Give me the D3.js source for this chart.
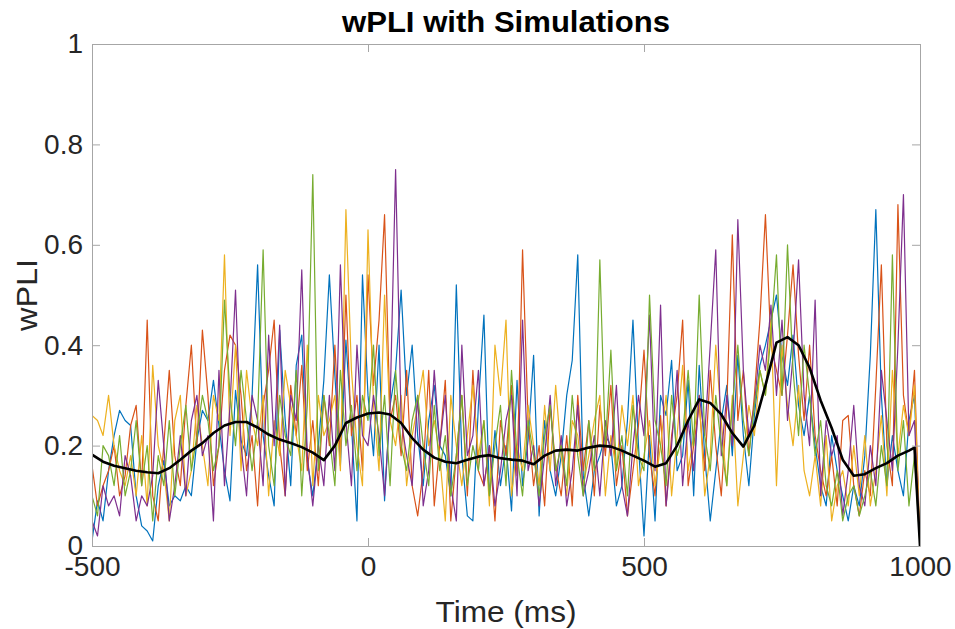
<!DOCTYPE html>
<html lang="en">
<head>
<meta charset="utf-8">
<title>wPLI with Simulations</title>
<script src="https://cdn.jsdelivr.net/npm/d3@7/dist/d3.min.js"></script>
<style type="text/css">
  body { margin: 0; background: #fff; }
  svg text { font-family: "Liberation Sans", Arial, Helvetica, sans-serif; fill: #262626; }
</style>
</head>
<body>
<div id="chart"></div>
<script type="text/javascript">
  // time axis: one sample every 10 ms from -500 to 1000
  const tStart = -500, tStep = 10;

  // five simulations in rows of 100 ms
  const simBlue = [
    .01,.09,.05,.15,.22,.27,.25,.24,.10,.04,
    .03,.01,.12,.17,.08,.10,.09,.12,.10,.21,
    .27,.25,.33,.24,.15,.09,.31,.21,.18,.30,
    .56,.22,.14,.08,.43,.25,.12,.36,.42,.17,
    .10,.20,.33,.54,.34,.16,.41,.24,.05,.54,
    .30,.18,.40,.09,.28,.35,.51,.30,.40,.22,
    .12,.25,.32,.20,.18,.10,.52,.18,.06,.05,
    .28,.46,.10,.23,.12,.20,.07,.33,.12,.21,
    .38,.06,.25,.15,.10,.18,.30,.37,.58,.14,
    .06,.15,.18,.22,.20,.08,.12,.25,.45,.20,
    .02,.22,.05,.30,.26,.37,.15,.18,.33,.10,
    .36,.18,.05,.15,.25,.32,.18,.38,.22,.12,
    .26,.36,.40,.45,.50,.38,.32,.42,.28,.22,
    .30,.20,.12,.08,.22,.15,.10,.05,.12,.08,
    .18,.38,.67,.30,.12,.22,.15,.10,.25,.30,
    0
  ];
  const simOrange = [
    .16,.08,.12,.15,.20,.10,.14,.24,.28,.12,
    .45,.10,.05,.20,.35,.18,.12,.28,.40,.20,
    .43,.30,.12,.20,.35,.42,.40,.30,.15,.22,
    .08,.28,.35,.45,.20,.10,.32,.22,.36,.15,
    .25,.12,.30,.20,.40,.18,.50,.22,.30,.15,
    .54,.32,.45,.66,.25,.30,.18,.35,.12,.06,
    .15,.35,.08,.20,.33,.05,.18,.30,.10,.35,
    .15,.12,.20,.05,.25,.18,.32,.14,.59,.25,
    .12,.20,.08,.28,.16,.10,.22,.08,.30,.15,
    .25,.10,.28,.18,.32,.12,.20,.06,.15,.24,
    .39,.18,.10,.26,.08,.22,.30,.45,.12,.20,
    .28,.15,.35,.20,.10,.28,.62,.25,.35,.18,
    .30,.45,.66,.40,.35,.30,.42,.56,.38,.25,
    .40,.22,.15,.10,.18,.08,.25,.26,.12,.06,
    .15,.10,.32,.56,.20,.12,.68,.30,.22,.35,
    0
  ];
  const simYellow = [
    .26,.25,.22,.30,.20,.15,.12,.18,.10,.22,
    .08,.36,.20,.15,.05,.25,.30,.10,.15,.28,
    .20,.12,.30,.25,.58,.22,.40,.15,.35,.25,
    .20,.30,.10,.25,.18,.35,.28,.22,.15,.40,
    .12,.30,.22,.25,.30,.15,.67,.35,.20,.12,
    .63,.28,.15,.50,.25,.20,.30,.12,.22,.28,
    .35,.20,.25,.18,.05,.30,.20,.12,.22,.32,
    .18,.25,.08,.40,.30,.45,.10,.20,.15,.28,
    .20,.12,.28,.15,.32,.18,.10,.25,.22,.12,
    .18,.25,.30,.10,.22,.15,.28,.20,.30,.12,
    .18,.25,.12,.20,.30,.10,.22,.36,.15,.22,
    .30,.10,.18,.40,.25,.12,.30,.08,.18,.28,
    .22,.35,.30,.45,.12,.40,.28,.20,.32,.15,
    .10,.18,.08,.22,.05,.12,.15,.08,.20,.10,
    .22,.08,.15,.26,.10,.35,.18,.28,.22,.32,
    0
  ];
  const simPurple = [
    .05,.02,.12,.08,.10,.06,.18,.14,.05,.10,
    .08,.14,.33,.20,.05,.12,.22,.10,.25,.30,
    .18,.22,.05,.35,.12,.28,.51,.20,.10,.30,
    .25,.12,.42,.20,.44,.10,.30,.25,.55,.18,
    .08,.20,.12,.30,.15,.56,.25,.12,.40,.22,
    .20,.30,.22,.10,.28,.75,.25,.18,.12,.30,
    .08,.15,.35,.20,.30,.12,.05,.40,.18,.22,
    .35,.12,.20,.08,.15,.25,.30,.10,.45,.15,
    .20,.08,.18,.30,.12,.22,.08,.15,.28,.10,
    .15,.22,.10,.25,.18,.32,.12,.06,.20,.30,
    .22,.46,.15,.48,.08,.20,.35,.12,.25,.15,
    .30,.22,.40,.59,.18,.30,.20,.65,.35,.22,
    .28,.40,.35,.48,.30,.45,.25,.38,.57,.30,
    .20,.49,.10,.25,.18,.22,.06,.15,.28,.12,
    .08,.20,.12,.35,.25,.15,.40,.70,.22,.25,
    0
  ];
  const simGreen = [
    .10,.06,.20,.18,.12,.22,.10,.15,.25,.12,
    .20,.05,.18,.12,.25,.10,.20,.28,.15,.22,
    .30,.25,.15,.20,.49,.30,.20,.35,.25,.15,
    .25,.59,.20,.12,.30,.22,.18,.35,.10,.28,
    .74,.15,.30,.22,.12,.35,.20,.28,.15,.30,
    .25,.40,.18,.30,.12,.35,.20,.15,.25,.30,
    .20,.12,.28,.15,.22,.10,.18,.30,.12,.20,
    .15,.25,.10,.20,.28,.12,.35,.18,.10,.25,
    .18,.10,.22,.28,.15,.20,.12,.30,.18,.10,
    .25,.15,.57,.20,.39,.15,.22,.10,.28,.18,
    .15,.50,.25,.20,.12,.30,.18,.22,.35,.20,
    .50,.22,.15,.30,.20,.12,.28,.40,.25,.18,
    .28,.35,.30,.42,.58,.30,.60,.35,.22,.40,
    .30,.18,.25,.12,.08,.15,.05,.10,.12,.06,
    .10,.15,.08,.20,.12,.58,.15,.25,.08,.18,
    0
  ];

  // smoothed wPLI (thick black line)
  const meanTimes = [
    -500,-480,-460,-440,-420,-400,-380,-360,-340,-320,
    -300,-280,-260,-240,-220,-200,-180,-160,-140,-120,
    -100,-80,-60,-40,-20,0,20,40,60,80,
    100,120,140,160,180,200,220,240,260,280,
    300,320,340,360,380,400,420,440,460,480,
    500,520,540,560,580,600,620,640,660,680,
    700,720,740,760,780,800,820,840,860,880,
    900,920,940,960,980,990,1000
  ];
  const meanValues = [
    .182,.168,.160,.155,.150,.147,.145,.155,.172,.190,
    .205,.225,.240,.247,.247,.236,.222,.212,.205,.197,
    .186,.171,.200,.245,.256,.264,.266,.262,.245,.215,
    .192,.176,.168,.165,.172,.178,.181,.175,.172,.170,
    .163,.180,.190,.192,.190,.196,.200,.198,.190,.180,
    .170,.158,.165,.200,.250,.292,.285,.262,.225,.198,
    .240,.320,.405,.416,.400,.355,.290,.235,.172,.140,
    .143,.155,.165,.180,.190,.196,0
  ];

  const simColors = ["#0072BD", "#D95319", "#EDB120", "#7E2F8E", "#77AC30"];
  const simulations = [simBlue, simOrange, simYellow, simPurple, simGreen];

  const xTicks = [-500, 0, 500, 1000];
  const yTicks = [0, 0.2, 0.4, 0.6, 0.8, 1];

  const width = 955, height = 629;
  const margin = {top: 44, right: 35, bottom: 83, left: 92};

  const svg = d3.select("#chart").append("svg")
      .attr("width", width)
      .attr("height", height);

  const x = d3.scaleLinear().domain([-500, 1000]).range([margin.left, width - margin.right]);
  const y = d3.scaleLinear().domain([0, 1]).range([height - margin.bottom, margin.top]);

  svg.append("defs").append("clipPath").attr("id", "plotArea")
    .append("rect")
      .attr("x", margin.left).attr("y", margin.top)
      .attr("width", x.range()[1] - margin.left)
      .attr("height", y.range()[0] - margin.top);

  const line = d3.line()
      .x(d => x(d[0]))
      .y(d => y(d[1]));

  const plot = svg.append("g").attr("clip-path", "url(#plotArea)");

  simulations.forEach((sim, k) => {
    plot.append("path")
      .datum(sim.map((v, i) => [tStart + i * tStep, v]))
      .attr("fill", "none")
      .attr("stroke", simColors[k])
      .attr("stroke-width", 1.2)
      .attr("stroke-linejoin", "round")
      .attr("d", line);
  });

  plot.append("path")
    .datum(meanTimes.map((t, i) => [t, meanValues[i]]))
    .attr("fill", "none")
    .attr("stroke", "#000")
    .attr("stroke-width", 2.6)
    .attr("stroke-linejoin", "round")
    .attr("d", line);

  // axes box, MATLAB style: ticks inward on all four sides
  const axisColor = "#a6a6a6";
  const tickLen = 8;
  const tickFont = 28;

  function styleAxis(g) {
    g.select(".domain").attr("stroke", axisColor).attr("stroke-width", 1);
    g.selectAll(".tick line").attr("stroke", axisColor);
  }

  svg.append("g")
      .attr("transform", `translate(0,${y(0)})`)
      .call(d3.axisBottom(x).tickValues(xTicks).tickSizeInner(-tickLen).tickSizeOuter(0).tickPadding(10).tickFormat(d => String(d)))
      .call(styleAxis)
      .call(g => g.selectAll("text").attr("font-size", tickFont).attr("fill", "#262626")
        .attr("font-family", "'Liberation Sans', Arial, sans-serif"));

  svg.append("g")
      .attr("transform", `translate(0,${y(1)})`)
      .call(d3.axisTop(x).tickValues(xTicks).tickSizeInner(-tickLen).tickSizeOuter(0).tickFormat(""))
      .call(styleAxis);

  svg.append("g")
      .attr("transform", `translate(${x(-500)},0)`)
      .call(d3.axisLeft(y).tickValues(yTicks).tickSizeInner(-tickLen).tickSizeOuter(0).tickPadding(9).tickFormat(d => String(+d.toFixed(1))))
      .call(styleAxis)
      .call(g => g.selectAll("text").attr("font-size", tickFont).attr("fill", "#262626")
        .attr("font-family", "'Liberation Sans', Arial, sans-serif"));

  svg.append("g")
      .attr("transform", `translate(${x(1000)},0)`)
      .call(d3.axisRight(y).tickValues(yTicks).tickSizeInner(-tickLen).tickSizeOuter(0).tickFormat(""))
      .call(styleAxis);

  // title and labels
  const midX = (x.range()[0] + x.range()[1]) / 2;

  svg.append("text")
      .attr("x", midX)
      .attr("y", 32)
      .attr("text-anchor", "middle")
      .attr("font-size", 29)
      .attr("font-weight", "bold")
      .attr("textLength", 328)
      .attr("lengthAdjust", "spacingAndGlyphs")
      .style("fill", "#000")
      .text("wPLI with Simulations");

  svg.append("text")
      .attr("x", midX)
      .attr("y", 622)
      .attr("text-anchor", "middle")
      .attr("font-size", 29)
      .attr("textLength", 141)
      .attr("lengthAdjust", "spacingAndGlyphs")
      .text("Time (ms)");

  svg.append("text")
      .attr("transform", `translate(37,${(y(0) + y(1)) / 2}) rotate(-90)`)
      .attr("text-anchor", "middle")
      .attr("font-size", 29)
      .attr("textLength", 72)
      .attr("lengthAdjust", "spacingAndGlyphs")
      .text("wPLI");
</script>
</body>
</html>
